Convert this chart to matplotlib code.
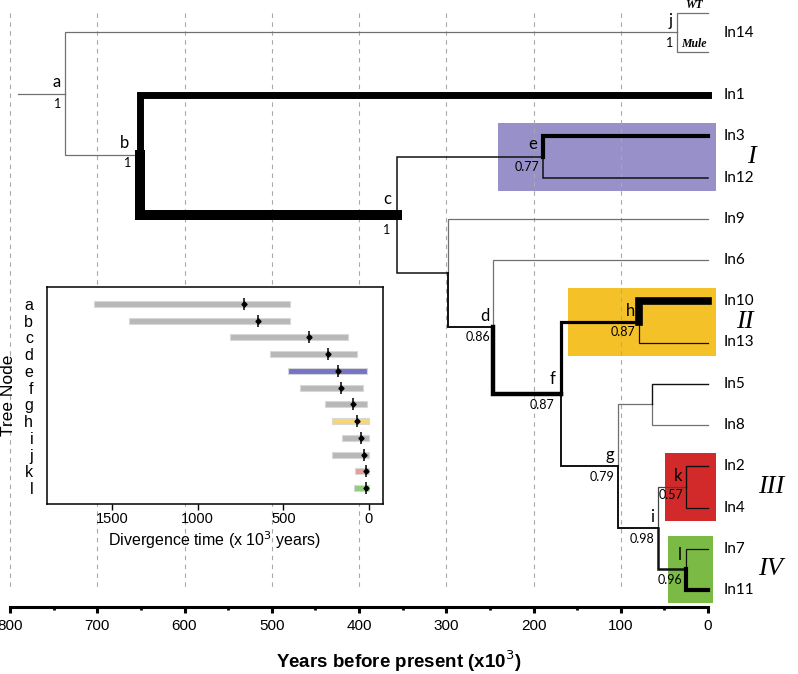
import matplotlib
matplotlib.use('Agg')
import matplotlib.pyplot as plt
from matplotlib.patches import Rectangle

# ---------------- data ----------------
# main tree (ages in thousand years before present)
tip_names = ['In14', 'In1', 'In3', 'In12', 'In9', 'In6', 'In10', 'In13',
             'In5', 'In8', 'In2', 'In4', 'In7', 'In11']
node_names = ['a', 'b', 'c', 'n9', 'd', 'e', 'f', 'g', 'h', 'n58', 'i', 'j', 'k', 'l']
node_ages = [737, 651, 357, 298, 246, 189, 168, 103, 79, 64, 57, 35.5, 25, 25]
node_support = ['1', '1', '1', '', '0.86', '0.77', '0.87', '0.79', '0.87', '', '0.98', '1', '0.57', '0.96']
node_children = {
    'a': ('j', 'b'), 'b': ('In1', 'c'), 'c': ('e', 'n9'), 'e': ('In3', 'In12'),
    'n9': ('In9', 'd'), 'd': ('In6', 'f'), 'f': ('h', 'g'), 'h': ('In10', 'In13'),
    'g': ('n58', 'i'), 'n58': ('In5', 'In8'), 'i': ('k', 'l'), 'k': ('In2', 'In4'),
    'l': ('In7', 'In11'), 'j': ('WT', 'Mule'),
}
root_age = 791
sub_tips = ['WT', 'Mule']

# clades highlighted (age range, tip span)
clade_labels = ['I', 'II', 'III', 'IV']
clade_age_from = [241, 160, 49, 46]
clade_age_to = [-9, -9, -9, -6]
clade_colors = ['#9891c9', '#f4c228', '#d22a2a', '#7bba44']

# inset: HPD intervals of node ages
hpd_nodes = ['a', 'b', 'c', 'd', 'e', 'f', 'g', 'h', 'i', 'j', 'k', 'l']
hpd_mean = [730, 649, 352, 239, 179, 163, 93, 68, 49, 27, 17, 17]
hpd_low = [460, 460, 124, 72, 14, 35, 10, 2, 2, 0, 1, 0]
hpd_high = [1603, 1403, 810, 577, 472, 404, 256, 218, 159, 218, 80, 87]
hpd_colors = ['#b4b4b4'] * 4 + ['#6f6cc4', '#b4b4b4', '#b4b4b4', '#f7d46e',
                                 '#b4b4b4', '#b4b4b4', '#e39a9a', '#8acb76']

main_ticks = [0, 100, 200, 300, 400, 500, 600, 700, 800]
inset_ticks = [1500, 1000, 500, 0]

# ---------------- layout helpers ----------------
PX_PER_KY = 0.8725
X0 = 708.0
ROW0, ROWH = 95.0, 41.25


def px_to_age(px):
    return (X0 - px) / PX_PER_KY


def px_to_row(py):
    return (py - ROW0) / ROWH


tip_rows = {'WT': -2.0, 'Mule': -1.05, 'In1': 0, 'In3': 1, 'In12': 2, 'In9': 3,
            'In6': 4, 'In10': 5, 'In13': 6, 'In5': 7, 'In8': 8, 'In2': 9,
            'In4': 10, 'In7': 11, 'In11': 12}
tip_label_rows = dict(tip_rows)
tip_label_rows['In14'] = -1.5

age_of = dict(zip(node_names, node_ages))
support_of = dict(zip(node_names, node_support))


def row_of(n):
    if n in tip_rows:
        return tip_rows[n]
    c1, c2 = node_children[n]
    return (row_of(c1) + row_of(c2)) / 2.0


GRAY = '#707070'
BLK = '#111111'
edge_style = {
    'j': (0.9, GRAY), 'b': (0.9, GRAY), 'WT': (0.9, GRAY), 'Mule': (0.9, GRAY),
    'In1': (5.0, 'black'), 'c': (7.2, 'black'),
    'e': (1.1, BLK), 'n9': (1.1, BLK),
    'In3': (3.0, 'black'), 'In12': (1.1, BLK),
    'In9': (0.9, GRAY), 'd': (1.4, BLK),
    'In6': (0.9, GRAY), 'f': (3.2, 'black'),
    'h': (2.3, 'black'), 'g': (1.4, BLK),
    'In10': (5.5, 'black'), 'In13': (0.9, BLK),
    'n58': (0.9, GRAY), 'i': (1.4, BLK),
    'In5': (1.0, BLK), 'In8': (0.9, GRAY),
    'k': (0.9, '#444444'), 'l': (1.8, BLK),
    'In2': (1.0, BLK), 'In4': (0.9, BLK),
    'In7': (0.9, BLK), 'In11': (3.0, 'black'),
}

label_off = {n: (-3, 4.5) for n in node_names}
label_off.update({'b': (-8, 5), 'c': (-4, 8), 'f': (-4, 7), 'l': (-3, 7), 'e': (-4, 5.5)})
support_off = {n: (-2.5, -7.5) for n in node_names}
support_off.update({'b': (-6.5, -6), 'c': (-4.5, -11), 'k': (-2, -5.5), 'f': (-5, -8)})

tree_font = ['Lato', 'DejaVu Sans']
narrow_font = ['Liberation Sans Narrow', 'Liberation Sans', 'DejaVu Sans']
inset_font = ['Liberation Sans', 'DejaVu Sans']

# ---------------- figure ----------------
fig = plt.figure(figsize=(7.98, 6.74), dpi=100)
ax = fig.add_axes([0, 0, 1, 1])
ax.set_xlim(px_to_age(0), px_to_age(798))
ax.set_ylim(px_to_row(674), px_to_row(0))
for s in ['top', 'left', 'right']:
    ax.spines[s].set_visible(False)
ax.set_yticks([])

# dashed grid
for t in main_ticks[1:]:
    ax.plot([t, t], [px_to_row(13), px_to_row(590)], color='#a8a8a8', lw=0.8,
            ls=(0, (4, 4)), zorder=2)

# clade boxes
clade_members = {'I': ('In3', 'In12'), 'II': ('In10', 'In13'), 'III': ('In2', 'In4'),
                 'IV': ('In7', 'In11')}
clade_text_px = {'I': 751, 'II': 745, 'III': 771, 'IV': 771}
for lab, a0, a1, col in zip(clade_labels, clade_age_from, clade_age_to, clade_colors):
    members = clade_members[lab]
    r0 = tip_rows[members[0]] - 0.32
    r1 = tip_rows[members[1]] + 0.32
    ax.add_patch(Rectangle((a1, r0), a0 - a1, r1 - r0, facecolor=col,
                           edgecolor='none', zorder=1))
    ax.text(px_to_age(clade_text_px[lab]), (r0 + r1) / 2, lab, fontsize=19,
            family='Liberation Serif', style='italic', ha='center', va='center', zorder=6)


# tree branches
def draw(n):
    x = age_of[n]
    y = row_of(n)
    for ch in node_children[n]:
        lw, col = edge_style.get(ch, (0.9, GRAY))
        cx = age_of.get(ch, 0)
        cy = row_of(ch)
        ax.plot([x, x, cx], [y, cy, cy], color=col, lw=lw,
                solid_capstyle='projecting', solid_joinstyle='miter',
                zorder=3 + lw / 10.0)
        if ch in node_children:
            draw(ch)


ax.plot([root_age, age_of['a']], [row_of('a'), row_of('a')], color=GRAY, lw=0.9, zorder=3)
draw('a')

# node letters & supports
for n in node_names:
    if n.startswith('n'):
        continue
    x, y = age_of[n], row_of(n)
    ax.annotate(n, (x, y), xytext=label_off[n], textcoords='offset points',
                ha='right', va='baseline', fontsize=12, family=tree_font, zorder=7)
    if support_of[n]:
        ax.annotate(support_of[n], (x, y), xytext=support_off[n], textcoords='offset points',
                    ha='right', va='center', fontsize=9, family=tree_font, zorder=7)

# tip labels
for t in tip_names:
    ax.annotate(t, (0, tip_label_rows[t]), xytext=(11.5, 0), textcoords='offset points',
                ha='left', va='center', fontsize=11, family=tree_font, zorder=7)
for s in sub_tips:
    ax.annotate(s, ((age_of['j'] + 0) / 2, tip_rows[s]), xytext=(1, 1),
                textcoords='offset points', ha='center', va='bottom', fontsize=8.5,
                family='Liberation Serif', style='italic', fontweight='bold', zorder=7)

# main time axis
ax.spines['bottom'].set_position(('data', px_to_row(607)))
ax.spines['bottom'].set_bounds(0, 800)
ax.spines['bottom'].set_linewidth(2.2)
ax.set_xticks(main_ticks)
ax.set_xticks([50 + 100 * k for k in range(8)], minor=True)
ax.tick_params(axis='x', which='major', length=4, width=2.2, direction='out', pad=4.5,
               labelsize=11)
ax.tick_params(axis='x', which='minor', length=1.8, width=2.0, direction='out')
for lbl in ax.get_xticklabels():
    lbl.set_family(narrow_font)
ax.set_xlabel('Years before present (x10$^{3}$)', fontsize=13.5, fontweight='bold',
              family=narrow_font, labelpad=11)

# ---------------- inset ----------------
axi = fig.add_axes([47 / 798, 1 - 504 / 674, 336 / 798, 217 / 674])
axi.set_zorder(10)
axi.set_facecolor('white')
rows = list(range(len(hpd_nodes)))
axi.barh(rows, [h - l for h, l in zip(hpd_high, hpd_low)], left=hpd_low, height=0.36,
         color=hpd_colors, edgecolor='#d8d8d8', linewidth=0.8, alpha=0.95)
axi.plot(hpd_mean, rows, ls='none', marker='|', markersize=8, mew=1.1, color='black')
axi.plot(hpd_mean, rows, ls='none', marker='D', markersize=2.6, color='black')
axi.set_xlim(1879, -82)
axi.set_ylim(11.96, -1.02)
axi.set_yticks(rows)
axi.set_yticklabels(hpd_nodes)
axi.set_xticks(inset_ticks)
axi.tick_params(axis='y', length=0, labelsize=11.5, pad=10)
axi.tick_params(axis='x', length=4, width=1, labelsize=10.5, pad=2)
for lbl in axi.get_yticklabels() + axi.get_xticklabels():
    lbl.set_family(inset_font)
for s in axi.spines.values():
    s.set_linewidth(1.1)
axi.set_xlabel('Divergence time (x 10$^3$ years)', fontsize=11.5,
               family=inset_font, labelpad=2)
axi.set_ylabel('Tree Node', fontsize=12.5, family=inset_font, labelpad=6)

fig.savefig('out.png', dpi=100)
